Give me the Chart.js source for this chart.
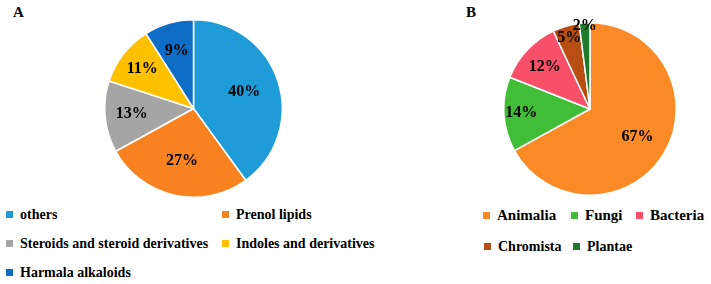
<!DOCTYPE html>
<html>
<head>
<meta charset="utf-8">
<script src="https://cdn.jsdelivr.net/npm/chart.js@4.4.1/dist/chart.umd.min.js"></script>
<style>
  body { margin: 0; width: 711px; height: 284px; background: #fff; position: relative; overflow: hidden;
         font-family: "Liberation Serif", "Times New Roman", serif; font-weight: bold; color: #000; }
  canvas { position: absolute; }
  .tag { position: absolute; font-size: 15px; }
  .legend { position: absolute; }
  .item { position: absolute; white-space: nowrap; line-height: 16px; }
  .item i { display: inline-block; width: 7px; height: 7px; margin-right: 7px; vertical-align: 1px; }
</style>
</head>
<body>
<div class="tag" style="left:13px; top:4px;">A</div>
<div class="tag" style="left:466px; top:4px;">B</div>
<canvas id="pieA" width="179" height="179" style="left:104px; top:19px;"></canvas>
<canvas id="pieB" width="174" height="184" style="left:503px; top:12px;"></canvas>
<div id="legA" class="legend"></div>
<div id="legB" class="legend"></div>
<script>
// chart A: compound classes
const classLabels = ["others", "Prenol lipids", "Steroids and steroid derivatives", "Indoles and derivatives", "Harmala alkaloids"]
const classShares = [40, 27, 13, 11, 9]
const classColors = ["#1F9BD8", "#F7821F", "#A5A5A5", "#FFC000", "#0E6EC6"]

// chart B: kingdoms
const kingdomLabels = ["Animalia", "Fungi", "Bacteria", "Chromista", "Plantae"]
const kingdomShares = [67, 14, 12, 5, 2]
const kingdomColors = ["#F98A25", "#41BD37", "#F9506A", "#B84E11", "#1F7A2C"]

// where each % label sits, as a fraction of the radius
const posA = [0.6, 0.6, 0.7, 0.73, 0.68]
const posB = [0.64, 0.8, 0.72, 0.86, 0.97]

const pctLabels = {
  id: "pctLabels",
  afterDatasetsDraw(chart, args, opts) {
    const ctx = chart.ctx
    const data = chart.data.datasets[0].data
    ctx.save()
    ctx.font = "bold 16px 'Liberation Serif', 'Times New Roman', serif"
    ctx.fillStyle = "#000"
    ctx.textAlign = "center"
    ctx.textBaseline = "middle"
    chart.getDatasetMeta(0).data.forEach(function(arc, i) {
      const p = arc.getProps(["x", "y", "startAngle", "endAngle", "outerRadius"], true)
      const mid = (p.startAngle + p.endAngle) / 2
      const r = p.outerRadius * opts.pos[i]
      ctx.fillText(data[i] + "%", p.x + Math.cos(mid) * r, p.y + Math.sin(mid) * r)
    })
    ctx.restore()
  }
}

function makePie(id, labels, values, colors, pos, padTop) {
  return new Chart(document.getElementById(id), {
    type: "pie",
    data: {
      labels: labels,
      datasets: [{ data: values, backgroundColor: colors, borderColor: "#fff", borderWidth: 1.5 }]
    },
    options: {
      responsive: false,
      animation: false,
      layout: { padding: { top: padTop, left: 0, right: 0, bottom: 0 } },
      plugins: { legend: { display: false }, tooltip: { enabled: false }, pctLabels: { pos: pos } }
    },
    plugins: [pctLabels]
  })
}

makePie("pieA", classLabels, classShares, classColors, posA, 0)
makePie("pieB", kingdomLabels, kingdomShares, kingdomColors, posB, 10)

// html legends, placed like the original
function legend(id, labels, colors, spots, size) {
  const box = document.getElementById(id)
  labels.forEach(function(l, i) {
    const d = document.createElement("div")
    d.className = "item"
    d.style.left = spots[i][0] + "px"
    d.style.top = spots[i][1] + "px"
    d.style.fontSize = size[i] + "px"
    d.innerHTML = '<i style="background:' + colors[i] + '"></i>' + l
    box.appendChild(d)
  })
}
legend("legA", classLabels, classColors, [[6, 207], [222, 207], [6, 236], [222, 236], [6, 265]], [14, 14, 14, 14, 14])
legend("legB", kingdomLabels, kingdomColors, [[483, 207], [571, 207], [636, 207], [484, 239], [573, 239]], [15, 15, 15, 14, 14])
</script>
</body>
</html>
